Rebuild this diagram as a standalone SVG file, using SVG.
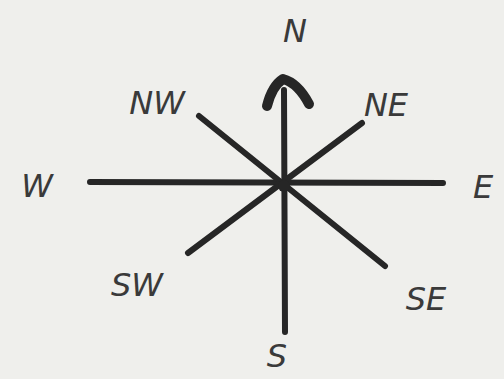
<svg xmlns="http://www.w3.org/2000/svg" width="504" height="379" viewBox="0 0 504 379">
<style>
.ln{stroke:#262626;stroke-width:6;stroke-linecap:round;fill:none}
.lb{font-family:"DejaVu Sans","Liberation Sans",sans-serif;font-weight:200;font-style:italic;font-size:32px;fill:#3a3a3a;text-anchor:middle;dominant-baseline:central}
</style>
<rect width="504" height="379" fill="#efefec"/>
<g id="connectors">
<line class="ln" x1="90" y1="182" x2="443" y2="183"/>
<line class="ln" x1="284" y1="90" x2="285" y2="332"/>
<line class="ln" x1="199" y1="116" x2="385" y2="266"/>
<line class="ln" x1="362" y1="123" x2="188" y2="253"/>
<circle cx="284" cy="186" r="6" fill="#262626"/>
<path d="M267,106 Q272,86 283,79 Q298,83 309,104" stroke="#262626" stroke-width="10" stroke-linecap="round" stroke-linejoin="round" fill="none"/>
<path d="M276,82 L283,76 L292,82 Z" fill="#262626"/>
</g>
<g id="n"><text class="lb" x="295" y="31">N</text></g>
<g id="nw"><text class="lb" x="157" y="103">NW</text></g>
<g id="ne"><text class="lb" x="386" y="105">NE</text></g>
<g id="w"><text class="lb" x="37" y="186">W</text></g>
<g id="e"><text class="lb" x="483" y="187">E</text></g>
<g id="sw"><text class="lb" x="137" y="285">SW</text></g>
<g id="se"><text class="lb" x="426" y="299">SE</text></g>
<g id="s"><text class="lb" x="277" y="356">S</text></g>
</svg>
